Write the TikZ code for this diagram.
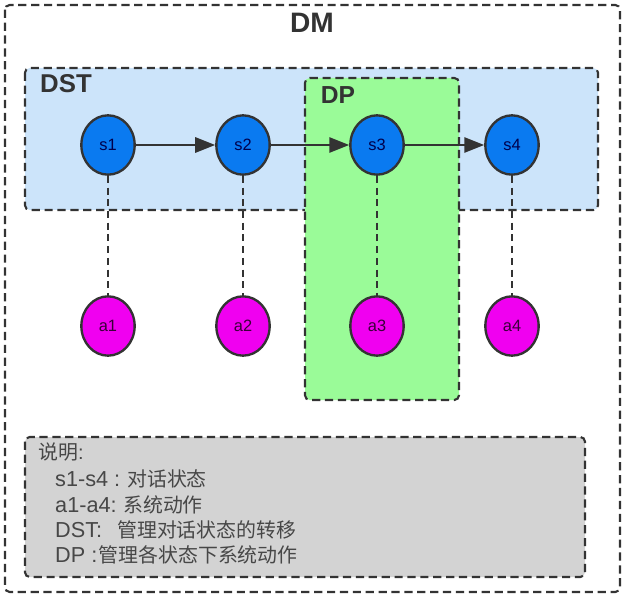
\documentclass[tikz,border=0pt]{standalone}
\usepackage{fontspec}
\setmainfont{Liberation Sans}
\newfontfamily\cjk{Noto Sans CJK SC}
\usepackage{xcolor}
\usetikzlibrary{shapes,arrows.meta,calc,positioning}

\definecolor{stateblue}{HTML}{0A7AF0}
\definecolor{actionpink}{HTML}{F000F0}
\definecolor{dstfill}{HTML}{CCE4FA}
\definecolor{dpfill}{HTML}{9AFB98}
\definecolor{legendfill}{HTML}{D3D3D3}
\definecolor{edge}{HTML}{333333}

\newcommand{\notekey}[2]{\makebox[#1][l]{\fontsize{18.5}{20}\selectfont #2}}

\begin{document}
\begin{tikzpicture}[x=0.03cm, y=-0.03cm,
  region/.style={draw=edge, dash pattern=on 7pt off 4pt, line width=1.8pt, rounded corners=4pt},
  state/.style={ellipse, draw=edge, line width=2pt, fill=stateblue, minimum width=1.6cm, minimum height=1.78cm, inner sep=0pt, text=black!70!blue, font=\fontsize{14}{16}\selectfont},
  action/.style={ellipse, draw=edge, line width=2pt, fill=actionpink, minimum width=1.6cm, minimum height=1.78cm, inner sep=0pt, text=black!55!violet, font=\fontsize{14}{16}\selectfont},
  arrow/.style={-{Triangle[length=17pt,width=13pt]}, line width=2pt, draw=edge},
  link/.style={draw=edge, line width=2pt, dash pattern=on 6pt off 4pt},
  title/.style={font=\bfseries, text=edge, inner sep=0pt},
  note/.style={anchor=west, font=\fontsize{17}{20}\selectfont, text=black!72, inner sep=0pt}
]
\useasboundingbox (0,0) rectangle (626,598);

% boxes
\draw[region] (5,5) rectangle (620,592);
\node[title, font=\fontsize{24}{26}\selectfont\bfseries] (dm) at (312,23) {DM};
\draw[region, fill=dstfill] (25,68) rectangle (598,210);
\node[title, font=\fontsize{22}{24}\selectfont\bfseries] (dst) at (66,84) {DST};
\draw[region, fill=dpfill] (305,78) rectangle (459,400);
\node[title, font=\fontsize{21}{24}\selectfont\bfseries] (dp) at (338,95) {DP};

% states and actions
\node[state] (s1) at (108,145) {s1};
\node[state] (s2) at (243,145) {s2};
\node[state] (s3) at (377,145) {s3};
\node[state] (s4) at (512,145) {s4};
\node[action] (a1) at (108,326) {a1};
\node[action] (a2) at (243,326) {a2};
\node[action] (a3) at (377,326) {a3};
\node[action] (a4) at (512,326) {a4};

\draw[arrow] (s1) -- (s2);
\draw[arrow] (s2) -- (s3);
\draw[arrow] (s3) -- (s4);
\foreach \i in {1,2,3,4}
  \draw[link] (s\i) -- (a\i);

% legend
\draw[region, fill=legendfill] (25,437) rectangle (585,577);
\node[note] (n0) at (38,452) {{\cjk 说明}:};
\node[note] (n1) at (55,479) {\notekey{2.16cm}{s1-s4 :}{\cjk 对话状态}};
\node[note] (n2) at (55,505) {\notekey{2.04cm}{a1-a4:}{\cjk 系统动作}};
\node[note] (n3) at (55,530) {\notekey{1.86cm}{DST:}{\cjk 管理对话状态的转移}};
\node[note] (n4) at (55,555) {\notekey{1.3cm}{DP :}{\cjk 管理各状态下系统动作}};

\end{tikzpicture}
\end{document}
